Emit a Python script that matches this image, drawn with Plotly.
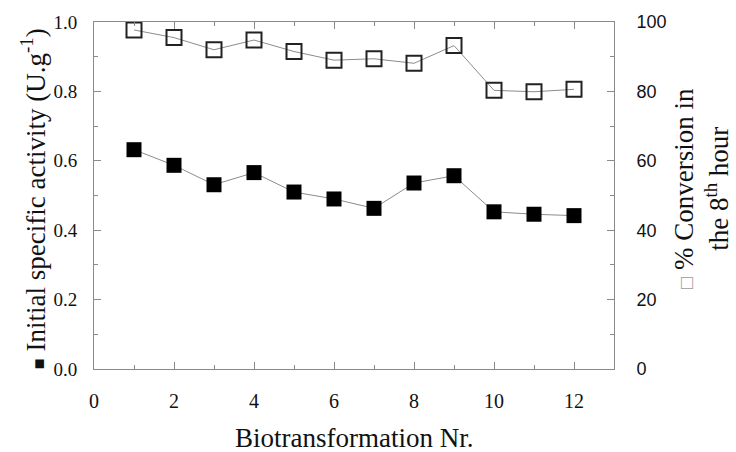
import plotly.graph_objects as go

batch = [1, 2, 3, 4, 5, 6, 7, 8, 9, 10, 11, 12]
activity = [0.632, 0.587, 0.531, 0.566, 0.510, 0.490, 0.463, 0.536, 0.557, 0.453, 0.446, 0.442]
conversion = [97.7, 95.5, 92.0, 94.8, 91.5, 89.0, 89.4, 88.1, 93.2, 80.3, 79.9, 80.6]

SERIF = "'Liberation Serif', 'Times New Roman', serif"
SANS = "'Liberation Sans', Arial, sans-serif"
AX = "#8a8a8a"

fig = go.Figure()
fig.add_trace(go.Scatter(
    x=batch, y=activity, mode="lines+markers", yaxis="y",
    line=dict(color="#8c8c8c", width=1),
    marker=dict(symbol="square", size=15, color="black", line=dict(color="black", width=0)),
    showlegend=False))
fig.add_trace(go.Scatter(
    x=batch, y=conversion, mode="lines+markers", yaxis="y2",
    line=dict(color="#8c8c8c", width=1),
    marker=dict(symbol="square-open", size=15, color="#222222", line=dict(width=2)),
    showlegend=False))

fig.update_layout(
    width=736, height=452,
    margin=dict(l=94, r=122, t=22, b=83),
    paper_bgcolor="white", plot_bgcolor="white",
    xaxis=dict(range=[0, 13], dtick=2, tick0=0, showgrid=False, zeroline=False,
               showline=True, linecolor=AX, linewidth=1, mirror="ticks",
               ticks="inside", ticklen=7, tickcolor=AX,
               minor=dict(ticks="inside", dtick=1, ticklen=4, tickcolor=AX),
               tickfont=dict(family=SERIF, size=20, color="#111"),
               ticklabelstandoff=14),
    yaxis=dict(range=[0, 1], dtick=0.2, tick0=0, tickformat=".1f", showgrid=False, zeroline=False,
               showline=True, linecolor=AX, linewidth=1,
               ticks="inside", ticklen=7, tickcolor=AX,
               minor=dict(ticks="inside", dtick=0.1, ticklen=4, tickcolor=AX),
               tickfont=dict(family=SERIF, size=19, color="#111"),
               ticklabelstandoff=12),
    yaxis2=dict(range=[0, 100], dtick=20, tick0=0, overlaying="y", side="right",
                showgrid=False, zeroline=False,
                showline=True, linecolor=AX, linewidth=1,
                ticks="inside", ticklen=7, tickcolor=AX,
                minor=dict(ticks="inside", dtick=10, ticklen=4, tickcolor=AX),
                tickfont=dict(family=SANS, size=18, color="#111"),
                ticklabelstandoff=18),
)

fig.add_annotation(
    xref="paper", yref="paper", x=-0.117, y=0.49, xanchor="center", yanchor="middle",
    textangle=-90, showarrow=False,
    text="<span style='font-size:18px'>■</span> Initial specific activity (U.g<sup>-1</sup>)",
    font=dict(family=SERIF, size=27, color="#111"))
fig.add_annotation(
    xref="paper", yref="paper", x=1.168, y=0.52, xanchor="center", yanchor="middle",
    textangle=-90, showarrow=False,
    text="<span style='font-size:20px;color:#9a9a9a'>□</span> % Conversion in<br>the 8<sup>th</sup> hour",
    font=dict(family=SERIF, size=27, color="#111"))
fig.add_annotation(
    xref="paper", yref="paper", x=0.5, y=-0.15, xanchor="center", yanchor="top",
    showarrow=False, text="Biotransformation Nr.",
    font=dict(family=SERIF, size=27, color="#111"))

fig.write_html("out.html")
